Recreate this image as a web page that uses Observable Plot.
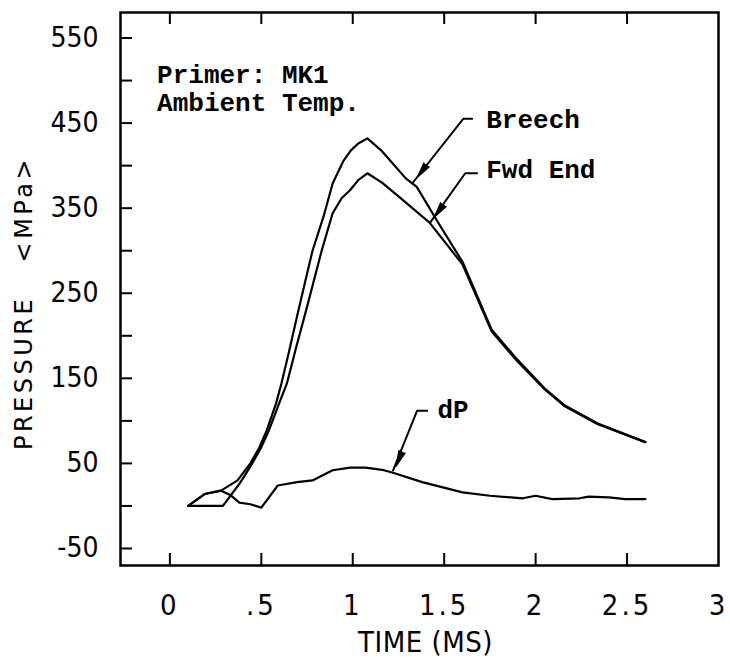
<!DOCTYPE html>
<html><head><meta charset="utf-8">
<script src="https://cdn.jsdelivr.net/npm/d3@7"></script>
<script src="https://cdn.jsdelivr.net/npm/@observablehq/plot@0.6"></script>
<style>body{margin:0;background:#fff} svg text{white-space:pre}</style>
</head><body><div id="chart"></div>
<script>
// ---- data (time in ms, pressure in MPa) ----
const breechTime = [0.1,0.19,0.28,0.37,0.44,0.49,0.53,0.58,0.61,0.65,0.7,0.75,0.78,0.84,0.89,0.95,0.99,1.03,1.08,1.16,1.29,1.35,1.47,1.6,1.76,1.9,2.05,2.16,2.34,2.6];
const breechP    = [0,14,18,30,50,69,89,120,144,180,227,273,300,340,379,406,418,426,432,417,385,375,332,287,207,172,138,118,97,75];
const fwdTime = [0.1,0.29,0.345,0.38,0.41,0.45,0.5,0.54,0.6,0.64,0.69,0.75,0.83,0.89,0.94,0.985,1.03,1.08,1.16,1.26,1.42,1.6,1.76,1.9,2.05,2.16,2.34,2.6];
const fwdP    = [0,0,16,26,36,50,69,88,122,144,186,234,300,344,362,371,383,391,380,362,333,284,205,170,137,117,96,75];
const dPTime = [0.1,0.19,0.28,0.33,0.38,0.44,0.5,0.59,0.695,0.78,0.89,0.985,1.07,1.17,1.22,1.38,1.6,1.75,1.93,2.0,2.09,2.24,2.29,2.4,2.49,2.6];
const dPP    = [0,14,18,13,4,2,-2,24,28,30,42,45,45,42,39,28,16,12,9,12,8,9,11,10,8,8];

const xTicks = [0,0.5,1,1.5,2,2.5];
const xLabelVals = [0,0.5,1,1.5,2,2.5,3];
const xLabelText = ["0",".5","1","1.5","2","2.5","3"];
const yTicks = [-50,0,50,100,150,200,250,300,350,400,450,500,550];
const yLabelVals = [-50,50,150,250,350,450,550];

// annotations
const noteText = ["Primer: MK1","Ambient Temp."];
const noteX = [-0.07,-0.07];
const noteY = [497,464];
const seriesLabel = ["Breech","Fwd End","dP"];
const seriesLabelX = [1.73,1.73,1.463];
const seriesLabelY = [444,385,103];
// leader lines: [time, pressure] corners
const leaderBreech = [[1.653,455],[1.604,455],[1.325,379]];
const leaderFwd    = [[1.68,391],[1.615,391],[1.423,333]];
const leaderDP     = [[1.407,112],[1.352,112],[1.22,41.6]];
const arrowTipX = [1.352,1.445,1.237];
const arrowTipY = [386,339,46.4];
const arrowAngle = [216.7,215.5,201.8];

const xTitle = "TIME (MS)";
const yTitle = "PRESSURE   <MPa>";

const toRows = (ts, ps) => ts.map((t,i) => ({t, p: ps[i]}));
const leaderRows = (pts) => pts.map(([t,p]) => ({t,p}));

const W = 730, H = 663, mL = 120, mR = 12, mT = 12, mB = 98;
const innerW = W - mL - mR, innerH = H - mT - mB;
const narrow = "'Liberation Sans Narrow', 'DejaVu Sans Condensed', 'Arial Narrow', sans-serif";
const mono = "'Liberation Mono', 'DejaVu Sans Mono', monospace";

const lineOpts = {x: "t", y: "p", stroke: "black", strokeWidth: 2.2, strokeLinejoin: "round"};

const chart = Plot.plot({
  width: W, height: H,
  marginLeft: mL, marginRight: mR, marginTop: mT, marginBottom: mB,
  style: {background: "white", color: "black", overflow: "visible"},
  x: {domain: [-0.27, 3]},
  y: {domain: [-70, 580]},
  marks: [
    Plot.tickY(yTicks, {y: d => d, insetRight: innerW - 12, stroke: "black", strokeWidth: 2}),
    Plot.tickX(xTicks, {x: d => d, insetTop: innerH - 12, stroke: "black", strokeWidth: 2}),
    Plot.tickX(xTicks, {x: d => d, insetBottom: innerH - 12, stroke: "black", strokeWidth: 2}),
    Plot.axisY(yLabelVals, {tickSize: 0, tickPadding: 22, label: null, fontSize: 28, fontFamily: narrow, tickFormat: d => String(d)}),
    Plot.axisX(xLabelVals, {tickSize: 0, tickPadding: 29, label: null, fontSize: 29, fontFamily: narrow, tickFormat: d => xLabelText[xLabelVals.indexOf(d)]}),
    Plot.frame({stroke: "black", strokeWidth: 2.5}),
    Plot.line(toRows(breechTime, breechP), lineOpts),
    Plot.line(toRows(fwdTime, fwdP), lineOpts),
    Plot.line(toRows(dPTime, dPP), lineOpts),
    Plot.line(leaderRows(leaderBreech), {x: "t", y: "p", stroke: "black", strokeWidth: 2}),
    Plot.line(leaderRows(leaderFwd), {x: "t", y: "p", stroke: "black", strokeWidth: 2}),
    Plot.line(leaderRows(leaderDP), {x: "t", y: "p", stroke: "black", strokeWidth: 2}),
    Plot.vector(arrowTipX.map((x,i) => ({x, y: arrowTipY[i], a: arrowAngle[i]})), {x: "x", y: "y", rotate: "a", length: 16, shape: "spike", r: 3.5, anchor: "end", fill: "black", stroke: "black", strokeWidth: 1}),
    Plot.text(noteText.map((s,i) => ({s, x: noteX[i], y: noteY[i]})), {x: "x", y: "y", text: "s", textAnchor: "start", lineAnchor: "bottom", fontFamily: mono, fontWeight: "bold", fontSize: 26}),
    Plot.text(seriesLabel.map((s,i) => ({s, x: seriesLabelX[i], y: seriesLabelY[i]})), {x: "x", y: "y", text: "s", textAnchor: "start", lineAnchor: "bottom", fontFamily: mono, fontWeight: "bold", fontSize: 26}),
    Plot.text([xTitle], {frameAnchor: "bottom", dx: 425 - (mL + innerW / 2), dy: 77, fontFamily: narrow, fontSize: 29, textAnchor: "middle", lineAnchor: "middle"}),
    Plot.text([yTitle], {frameAnchor: "left", rotate: -90, dx: -96, dy: 14, fontFamily: "'DejaVu Sans', sans-serif", fontSize: 24, textAnchor: "middle", lineAnchor: "middle"})
  ]
});
document.getElementById("chart").appendChild(chart);
const texts = d3.select(chart).selectAll("text");
texts.filter(function() { return this.textContent === yTitle; }).style("letter-spacing", "3.5px");
texts.filter(function() { return this.textContent === xTitle; }).style("letter-spacing", "0.5px");
d3.select(chart).selectAll('g[aria-label="x-axis tick label"] text').style("letter-spacing", "3px");
</script>
</body></html>
